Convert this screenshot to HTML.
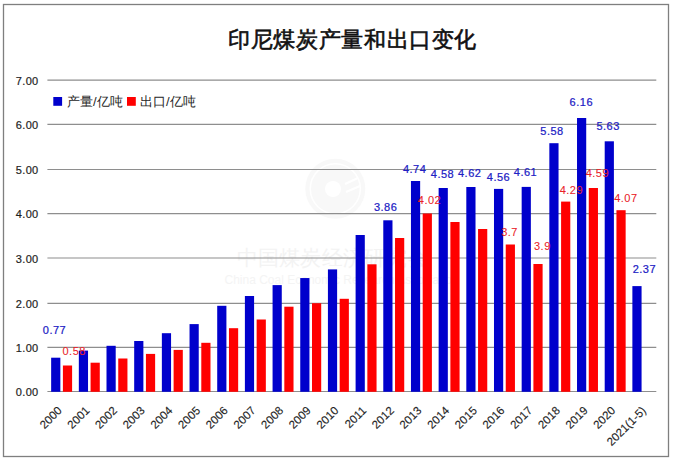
<!DOCTYPE html>
<html><head><meta charset="utf-8"><style>
html,body{margin:0;padding:0;background:#fff;}
body{width:673px;height:463px;overflow:hidden;position:relative;}
svg{position:absolute;left:0;top:0;}
.t{font-family:"Liberation Sans",sans-serif;}
</style></head><body>
<svg width="673" height="463" viewBox="0 0 673 463">
<rect x="0" y="0" width="673" height="463" fill="#fff"/>
<rect x="3.5" y="4.5" width="665" height="452" fill="none" stroke="#7f7f7f" stroke-width="1.3"/>
<circle cx="335.3" cy="188.8" r="30" fill="#f8f8f8"/>
<circle cx="335.3" cy="188.8" r="25" fill="none" stroke="#fff" stroke-width="1.5"/>
<circle cx="333" cy="189" r="8" fill="#fff"/>
<path d="M345 184 L358 178 M346 192 L360 186" stroke="#fff" stroke-width="2"/>
<text x="236.5" y="265" font-family="Liberation Serif, serif" font-size="21" fill="#f3f3f3" letter-spacing="0.3">中国煤炭经济研究会</text>
<text class="t" x="224.5" y="284" font-size="12" fill="#f4f4f4">China Coal Economic Research Association</text>
<line x1="47.4" y1="391.50" x2="656.3" y2="391.50" stroke="#8e8e8e" stroke-width="1.2"/>
<line x1="47.4" y1="347.40" x2="656.3" y2="347.40" stroke="#8e8e8e" stroke-width="1.2"/>
<line x1="47.4" y1="303.40" x2="656.3" y2="303.40" stroke="#8e8e8e" stroke-width="1.2"/>
<line x1="47.4" y1="258.00" x2="656.3" y2="258.00" stroke="#8e8e8e" stroke-width="1.2"/>
<line x1="47.4" y1="213.60" x2="656.3" y2="213.60" stroke="#8e8e8e" stroke-width="1.2"/>
<line x1="47.4" y1="169.50" x2="656.3" y2="169.50" stroke="#8e8e8e" stroke-width="1.2"/>
<line x1="47.4" y1="124.40" x2="656.3" y2="124.40" stroke="#8e8e8e" stroke-width="1.2"/>
<line x1="47.4" y1="80.20" x2="656.3" y2="80.20" stroke="#8e8e8e" stroke-width="1.2"/>
<rect x="51.15" y="357.70" width="9.2" height="34.10" fill="#0000cc"/>
<rect x="78.83" y="350.60" width="9.2" height="41.20" fill="#0000cc"/>
<rect x="106.50" y="345.80" width="9.2" height="46.00" fill="#0000cc"/>
<rect x="134.18" y="341.00" width="9.2" height="50.80" fill="#0000cc"/>
<rect x="161.86" y="333.20" width="9.2" height="58.60" fill="#0000cc"/>
<rect x="189.54" y="324.10" width="9.2" height="67.70" fill="#0000cc"/>
<rect x="217.21" y="305.80" width="9.2" height="86.00" fill="#0000cc"/>
<rect x="244.89" y="296.00" width="9.2" height="95.80" fill="#0000cc"/>
<rect x="272.57" y="285.10" width="9.2" height="106.70" fill="#0000cc"/>
<rect x="300.25" y="278.05" width="9.2" height="113.75" fill="#0000cc"/>
<rect x="327.92" y="269.40" width="9.2" height="122.40" fill="#0000cc"/>
<rect x="355.60" y="235.00" width="9.2" height="156.80" fill="#0000cc"/>
<rect x="383.28" y="220.30" width="9.2" height="171.50" fill="#0000cc"/>
<rect x="410.95" y="181.00" width="9.2" height="210.80" fill="#0000cc"/>
<rect x="438.63" y="188.00" width="9.2" height="203.80" fill="#0000cc"/>
<rect x="466.31" y="187.00" width="9.2" height="204.80" fill="#0000cc"/>
<rect x="493.99" y="188.90" width="9.2" height="202.90" fill="#0000cc"/>
<rect x="521.66" y="186.90" width="9.2" height="204.90" fill="#0000cc"/>
<rect x="549.34" y="143.20" width="9.2" height="248.60" fill="#0000cc"/>
<rect x="577.02" y="118.00" width="9.2" height="273.80" fill="#0000cc"/>
<rect x="604.70" y="141.30" width="9.2" height="250.50" fill="#0000cc"/>
<rect x="632.37" y="286.10" width="9.2" height="105.70" fill="#0000cc"/>
<rect x="62.90" y="365.50" width="9.2" height="26.30" fill="#ff0000"/>
<rect x="90.58" y="362.70" width="9.2" height="29.10" fill="#ff0000"/>
<rect x="118.25" y="358.50" width="9.2" height="33.30" fill="#ff0000"/>
<rect x="145.93" y="353.90" width="9.2" height="37.90" fill="#ff0000"/>
<rect x="173.61" y="349.90" width="9.2" height="41.90" fill="#ff0000"/>
<rect x="201.29" y="342.80" width="9.2" height="49.00" fill="#ff0000"/>
<rect x="228.96" y="328.20" width="9.2" height="63.60" fill="#ff0000"/>
<rect x="256.64" y="319.50" width="9.2" height="72.30" fill="#ff0000"/>
<rect x="284.32" y="306.70" width="9.2" height="85.10" fill="#ff0000"/>
<rect x="312.00" y="303.20" width="9.2" height="88.60" fill="#ff0000"/>
<rect x="339.67" y="298.80" width="9.2" height="93.00" fill="#ff0000"/>
<rect x="367.35" y="264.30" width="9.2" height="127.50" fill="#ff0000"/>
<rect x="395.03" y="238.00" width="9.2" height="153.80" fill="#ff0000"/>
<rect x="422.70" y="213.50" width="9.2" height="178.30" fill="#ff0000"/>
<rect x="450.38" y="222.00" width="9.2" height="169.80" fill="#ff0000"/>
<rect x="478.06" y="229.00" width="9.2" height="162.80" fill="#ff0000"/>
<rect x="505.74" y="244.50" width="9.2" height="147.30" fill="#ff0000"/>
<rect x="533.41" y="264.00" width="9.2" height="127.80" fill="#ff0000"/>
<rect x="561.09" y="201.60" width="9.2" height="190.20" fill="#ff0000"/>
<rect x="588.77" y="188.00" width="9.2" height="203.80" fill="#ff0000"/>
<rect x="616.45" y="210.20" width="9.2" height="181.60" fill="#ff0000"/>
<text class="t" x="38.6" y="396.20" text-anchor="end" font-size="11.0" fill="#1e1e1e" stroke="#1e1e1e" stroke-width="0.2" letter-spacing="0.35">0.00</text>
<text class="t" x="38.6" y="352.10" text-anchor="end" font-size="11.0" fill="#1e1e1e" stroke="#1e1e1e" stroke-width="0.2" letter-spacing="0.35">1.00</text>
<text class="t" x="38.6" y="308.10" text-anchor="end" font-size="11.0" fill="#1e1e1e" stroke="#1e1e1e" stroke-width="0.2" letter-spacing="0.35">2.00</text>
<text class="t" x="38.6" y="262.70" text-anchor="end" font-size="11.0" fill="#1e1e1e" stroke="#1e1e1e" stroke-width="0.2" letter-spacing="0.35">3.00</text>
<text class="t" x="38.6" y="218.30" text-anchor="end" font-size="11.0" fill="#1e1e1e" stroke="#1e1e1e" stroke-width="0.2" letter-spacing="0.35">4.00</text>
<text class="t" x="38.6" y="174.20" text-anchor="end" font-size="11.0" fill="#1e1e1e" stroke="#1e1e1e" stroke-width="0.2" letter-spacing="0.35">5.00</text>
<text class="t" x="38.6" y="129.10" text-anchor="end" font-size="11.0" fill="#1e1e1e" stroke="#1e1e1e" stroke-width="0.2" letter-spacing="0.35">6.00</text>
<text class="t" x="38.6" y="84.90" text-anchor="end" font-size="11.0" fill="#1e1e1e" stroke="#1e1e1e" stroke-width="0.2" letter-spacing="0.35">7.00</text>
<text class="t" transform="translate(62.54,411.3) rotate(-45)" text-anchor="end" font-size="11.5" fill="#1e1e1e" stroke="#1e1e1e" stroke-width="0.12">2000</text>
<text class="t" transform="translate(90.22,411.3) rotate(-45)" text-anchor="end" font-size="11.5" fill="#1e1e1e" stroke="#1e1e1e" stroke-width="0.12">2001</text>
<text class="t" transform="translate(117.89,411.3) rotate(-45)" text-anchor="end" font-size="11.5" fill="#1e1e1e" stroke="#1e1e1e" stroke-width="0.12">2002</text>
<text class="t" transform="translate(145.57,411.3) rotate(-45)" text-anchor="end" font-size="11.5" fill="#1e1e1e" stroke="#1e1e1e" stroke-width="0.12">2003</text>
<text class="t" transform="translate(173.25,411.3) rotate(-45)" text-anchor="end" font-size="11.5" fill="#1e1e1e" stroke="#1e1e1e" stroke-width="0.12">2004</text>
<text class="t" transform="translate(200.93,411.3) rotate(-45)" text-anchor="end" font-size="11.5" fill="#1e1e1e" stroke="#1e1e1e" stroke-width="0.12">2005</text>
<text class="t" transform="translate(228.60,411.3) rotate(-45)" text-anchor="end" font-size="11.5" fill="#1e1e1e" stroke="#1e1e1e" stroke-width="0.12">2006</text>
<text class="t" transform="translate(256.28,411.3) rotate(-45)" text-anchor="end" font-size="11.5" fill="#1e1e1e" stroke="#1e1e1e" stroke-width="0.12">2007</text>
<text class="t" transform="translate(283.96,411.3) rotate(-45)" text-anchor="end" font-size="11.5" fill="#1e1e1e" stroke="#1e1e1e" stroke-width="0.12">2008</text>
<text class="t" transform="translate(311.63,411.3) rotate(-45)" text-anchor="end" font-size="11.5" fill="#1e1e1e" stroke="#1e1e1e" stroke-width="0.12">2009</text>
<text class="t" transform="translate(339.31,411.3) rotate(-45)" text-anchor="end" font-size="11.5" fill="#1e1e1e" stroke="#1e1e1e" stroke-width="0.12">2010</text>
<text class="t" transform="translate(366.99,411.3) rotate(-45)" text-anchor="end" font-size="11.5" fill="#1e1e1e" stroke="#1e1e1e" stroke-width="0.12">2011</text>
<text class="t" transform="translate(394.67,411.3) rotate(-45)" text-anchor="end" font-size="11.5" fill="#1e1e1e" stroke="#1e1e1e" stroke-width="0.12">2012</text>
<text class="t" transform="translate(422.34,411.3) rotate(-45)" text-anchor="end" font-size="11.5" fill="#1e1e1e" stroke="#1e1e1e" stroke-width="0.12">2013</text>
<text class="t" transform="translate(450.02,411.3) rotate(-45)" text-anchor="end" font-size="11.5" fill="#1e1e1e" stroke="#1e1e1e" stroke-width="0.12">2014</text>
<text class="t" transform="translate(477.70,411.3) rotate(-45)" text-anchor="end" font-size="11.5" fill="#1e1e1e" stroke="#1e1e1e" stroke-width="0.12">2015</text>
<text class="t" transform="translate(505.37,411.3) rotate(-45)" text-anchor="end" font-size="11.5" fill="#1e1e1e" stroke="#1e1e1e" stroke-width="0.12">2016</text>
<text class="t" transform="translate(533.05,411.3) rotate(-45)" text-anchor="end" font-size="11.5" fill="#1e1e1e" stroke="#1e1e1e" stroke-width="0.12">2017</text>
<text class="t" transform="translate(560.73,411.3) rotate(-45)" text-anchor="end" font-size="11.5" fill="#1e1e1e" stroke="#1e1e1e" stroke-width="0.12">2018</text>
<text class="t" transform="translate(588.41,411.3) rotate(-45)" text-anchor="end" font-size="11.5" fill="#1e1e1e" stroke="#1e1e1e" stroke-width="0.12">2019</text>
<text class="t" transform="translate(616.08,411.3) rotate(-45)" text-anchor="end" font-size="11.5" fill="#1e1e1e" stroke="#1e1e1e" stroke-width="0.12">2020</text>
<text class="t" transform="translate(646.76,411.3) rotate(-45)" text-anchor="end" font-size="11.5" fill="#1e1e1e" stroke="#1e1e1e" stroke-width="0.12">2021(1-5)</text>
<text class="t" x="42.80" y="334.00" font-size="11" fill="#2020c4" stroke="#2020c4" stroke-width="0.22" letter-spacing="0.5">0.77</text>
<text class="t" x="62.50" y="354.90" font-size="11" fill="#ea2228" stroke="#ea2228" stroke-width="0.08" letter-spacing="0.5">0.58</text>
<text class="t" x="373.90" y="210.90" font-size="11" fill="#2020c4" stroke="#2020c4" stroke-width="0.22" letter-spacing="0.5">3.86</text>
<text class="t" x="402.90" y="172.90" font-size="11" fill="#2020c4" stroke="#2020c4" stroke-width="0.22" letter-spacing="0.5">4.74</text>
<text class="t" x="430.80" y="178.10" font-size="11" fill="#2020c4" stroke="#2020c4" stroke-width="0.22" letter-spacing="0.5">4.58</text>
<text class="t" x="417.80" y="203.60" font-size="11" fill="#ea2228" stroke="#ea2228" stroke-width="0.08" letter-spacing="0.5">4.02</text>
<text class="t" x="458.00" y="176.50" font-size="11" fill="#2020c4" stroke="#2020c4" stroke-width="0.22" letter-spacing="0.5">4.62</text>
<text class="t" x="486.80" y="180.60" font-size="11" fill="#2020c4" stroke="#2020c4" stroke-width="0.22" letter-spacing="0.5">4.56</text>
<text class="t" x="513.80" y="175.60" font-size="11" fill="#2020c4" stroke="#2020c4" stroke-width="0.22" letter-spacing="0.5">4.61</text>
<text class="t" x="501.20" y="236.40" font-size="11" fill="#ea2228" stroke="#ea2228" stroke-width="0.08" letter-spacing="0.5">3.7</text>
<text class="t" x="534.00" y="249.70" font-size="11" fill="#ea2228" stroke="#ea2228" stroke-width="0.08" letter-spacing="0.5">3.9</text>
<text class="t" x="540.30" y="134.60" font-size="11" fill="#2020c4" stroke="#2020c4" stroke-width="0.22" letter-spacing="0.5">5.58</text>
<text class="t" x="559.70" y="193.60" font-size="11" fill="#ea2228" stroke="#ea2228" stroke-width="0.08" letter-spacing="0.5">4.29</text>
<text class="t" x="569.60" y="105.80" font-size="11" fill="#2020c4" stroke="#2020c4" stroke-width="0.22" letter-spacing="0.5">6.16</text>
<text class="t" x="585.70" y="176.90" font-size="11" fill="#ea2228" stroke="#ea2228" stroke-width="0.08" letter-spacing="0.5">4.59</text>
<text class="t" x="596.40" y="130.30" font-size="11" fill="#2020c4" stroke="#2020c4" stroke-width="0.22" letter-spacing="0.5">5.63</text>
<text class="t" x="614.20" y="201.90" font-size="11" fill="#ea2228" stroke="#ea2228" stroke-width="0.08" letter-spacing="0.5">4.07</text>
<text class="t" x="632.70" y="272.80" font-size="11" fill="#2020c4" stroke="#2020c4" stroke-width="0.22" letter-spacing="0.5">2.37</text>
<rect x="53.3" y="97" width="8.8" height="8.8" fill="#0000cc"/>
<rect x="127" y="97" width="8.8" height="8.8" fill="#ff0000"/>
<text class="t" x="66.9" y="106" font-size="13" fill="#262626">产量/亿吨</text>
<text class="t" x="140.1" y="106" font-size="13" fill="#262626">出口/亿吨</text>
<text x="228" y="46.6" font-family="Liberation Serif, serif" font-size="21.6" letter-spacing="0.65" fill="#111" stroke="#111" stroke-width="0.6">印尼煤炭产量和出口变化</text>
</svg></body></html>
